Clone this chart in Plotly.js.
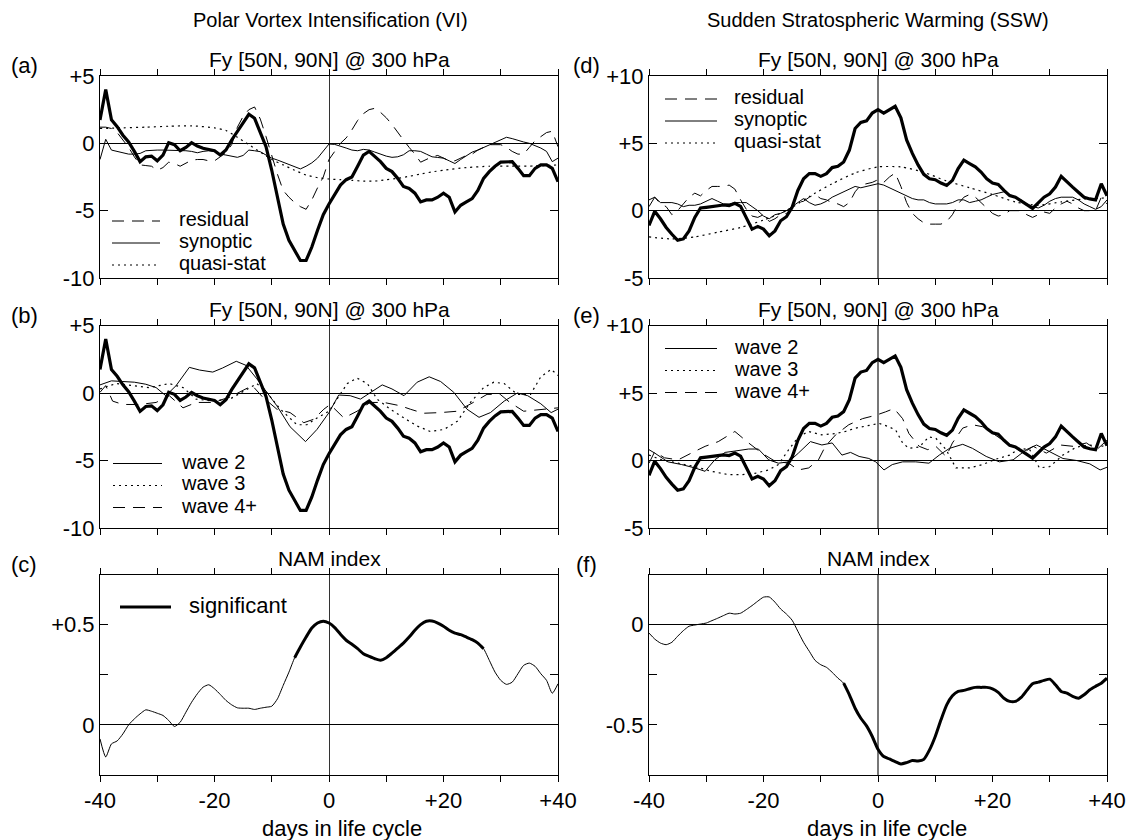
<!DOCTYPE html>
<html><head><meta charset="utf-8">
<script src="https://cdn.plot.ly/plotly-3.0.1.min.js"></script>
<style>body{margin:0;background:#fff}#chart{width:1137px;height:840px}</style>
</head><body><div id="chart"></div>
<script>
// ---------------- DATA ----------------
const days = [-40,-39,-38,-37,-36,-35,-34,-33,-32,-31,-30,-29,-28,-27,-26,-25,-24,-23,-22,-21,
  -20,-19,-18,-17,-16,-15,-14,-13,-12,-11,-10,-9,-8,-7,-6,-5,-4,-3,-2,-1,
  0,1,2,3,4,5,6,7,8,9,10,11,12,13,14,15,16,17,18,19,20,21,22,23,24,25,26,27,28,29,
  30,31,32,33,34,35,36,37,38,39,40];

// Polar Vortex Intensification (VI): Fy total (thick)
const fyTotalVI = [1.74,4.0,1.74,1.24,0.6,0.1,-0.6,-1.36,-1.0,-0.95,
  -1.3,-0.87,0.05,-0.1,-0.55,-0.3,0.05,-0.2,-0.37,-0.45,
  -0.55,-0.87,-0.5,0.25,0.87,1.5,2.16,1.86,0.87,-0.25,
  -2.0,-4.0,-6.0,-7.2,-7.9,-8.7,-8.7,-7.7,-6.45,-5.3,
  -4.5,-3.85,-3.1,-2.7,-2.5,-1.7,-0.87,-0.6,-0.95,-1.36,
  -1.86,-2.1,-2.6,-3.2,-3.35,-3.7,-4.35,-4.2,-4.2,-4.0,
  -3.7,-4.0,-5.1,-4.6,-4.35,-4.1,-3.5,-2.6,-2.1,-1.7,
  -1.4,-1.4,-1.36,-1.86,-2.4,-2.4,-1.86,-1.6,-1.6,-1.86,-2.85];
const residualVI = [1.2,1.2,1.1,0.8,0.25,-0.3,-1.0,-1.6,-1.65,-1.7,
  -2.0,-1.8,-1.4,-1.5,-1.7,-1.5,-1.25,-1.2,-1.2,-1.3,
  -1.3,-1.0,-0.7,-0.1,1.2,2.0,2.5,2.7,1.8,0.5,
  -1.0,-2.3,-3.5,-4.0,-4.4,-4.7,-4.9,-4.2,-3.3,-2.5,
  -1.2,-0.6,0.0,0.4,1.0,1.7,2.2,2.5,2.6,2.3,
  1.9,1.4,0.8,0.25,-0.3,-0.8,-1.4,-1.2,-1.0,-0.9,
  -1.1,-1.3,-1.3,-1.1,-0.9,-0.8,-0.5,-0.3,-0.1,-0.1,
  -0.1,-0.3,-0.6,-0.8,-0.8,-0.3,0.2,0.5,0.8,0.9,-0.25];
const synopticVI = [-1.2,0.3,-0.5,-0.6,-0.75,-0.8,-0.8,-0.75,-0.55,-0.5,
  -0.5,-0.5,-0.5,-0.5,-0.5,-0.55,-0.6,-0.7,-0.6,-0.55,
  -0.6,-0.8,-0.87,-0.95,-1.04,-0.9,-0.5,-0.55,-0.62,-0.87,
  -1.1,-1.24,-1.4,-1.6,-1.75,-1.9,-1.7,-1.45,-1.1,-0.6,
  -0.05,-0.08,-0.2,-0.35,-0.5,-0.55,-0.45,-0.5,-0.65,-0.8,
  -0.95,-1.04,-1.0,-0.85,-0.55,-0.55,-0.6,-0.8,-1.0,-1.05,
  -1.1,-1.3,-1.5,-1.2,-0.9,-0.65,-0.5,-0.3,-0.1,0.1,
  0.3,0.45,0.35,0.2,0.1,0.0,-0.15,-0.35,-0.6,-1.36,-1.1];
const quasiVIDays = [-40,-36,-32,-28,-24,-20,-18,-16,-14,-12,-10,-8,-6,-4,-2,0,2,4,6,8,10,12,14,16,18,20,24,28,32,36,40];
const quasiVI = [1.1,1.15,1.2,1.27,1.3,1.15,0.95,0.45,-0.1,-0.65,-1.2,-1.6,-2.0,-2.35,-2.55,-2.65,-2.7,-2.75,-2.8,-2.8,-2.7,-2.6,-2.45,-2.28,-2.12,-2.0,-1.8,-1.7,-1.69,-1.68,-1.6];

const wave2VIDays = [-40,-38,-36,-34,-32,-30.2,-28.5,-26.7,-24.4,-22.6,-20.3,-18.6,-16.2,-14.5,-12.6,-10.9,-9.1,-6.8,-4.1,-2.1,0,1.7,3.7,5.5,7.2,9.3,11,13.1,15.4,17.5,19.5,21.8,24.1,26.2,28.2,30.6,32.9,34.7,37,38.8,40];
const wave2VI = [0.6,0.9,0.85,0.8,0.65,0.4,-0.2,0.55,1.9,1.7,1.55,1.85,2.35,2.05,1.05,0.05,-0.95,-2.5,-3.6,-2.7,-1.45,-0.15,-0.2,-0.45,0.05,0.6,0.3,-0.2,0.8,1.2,0.85,0.05,-1.2,-1.8,-1.45,-0.6,0.0,-0.2,-0.8,-1.45,-1.2];
const wave3VIDays = [-40,-37.2,-34.3,-31.4,-27.9,-25.5,-23.2,-20.3,-17.3,-14.5,-12.6,-10.9,-8.5,-5.6,-3.85,-2.1,0,1.4,3.2,4.9,6.7,8.4,10.7,13.1,15.4,17.7,20.1,22.4,24.7,27,28.8,30.6,32.9,35.2,37,38.8,40];
const wave3VI = [0.3,0.7,0.55,0.4,0.7,0.4,-0.45,-0.6,-0.45,0.2,0.7,0.05,-1.2,-2.35,-2.35,-1.85,-1.35,-0.45,0.7,1.1,0.7,-0.45,-1.2,-1.85,-2.45,-2.85,-2.7,-2.1,-0.7,0.4,0.8,0.7,-0.1,-0.1,1.2,1.75,1.3];
const wave4VIDays = [-40,-39,-37.8,-36,-33.1,-30.2,-27.9,-25.5,-23.2,-20.3,-17.3,-15.1,-13.4,-11.6,-9.1,-6.8,-4.4,-2.7,-0.9,0.2,2.6,4.9,7.2,9.6,12.5,14.2,16.5,19.5,22.4,25.2,27.6,29.9,31.6,34,37,40];
const wave4VI = [0.05,0.55,-0.6,-0.85,-0.85,-0.7,-0.2,-1.1,-0.7,-0.7,-0.3,0.2,0.55,-0.3,-1.2,-1.45,-2.2,-1.95,-1.2,-0.85,-1.85,-1.35,-0.7,-0.7,-0.95,-1.2,-1.5,-1.45,-1.35,-0.7,-0.1,-0.1,-0.7,-1.35,-1.2,-1.1];

// Sudden Stratospheric Warming (SSW)
const fyTotalSSW = [-1.1,-0.05,-0.6,-1.25,-1.75,-2.2,-2.1,-1.5,-0.5,0.2,
  0.25,0.32,0.35,0.42,0.37,0.55,0.32,-0.5,-1.37,-1.17,
  -1.37,-1.87,-1.5,-0.75,-0.45,0.25,1.5,2.37,2.75,2.75,
  2.55,2.75,3.2,3.3,3.62,4.5,6.1,6.55,6.67,7.25,
  7.5,7.25,7.5,7.75,6.9,5.25,4.25,3.4,2.7,2.37,
  2.3,2.05,1.87,2.25,3.12,3.75,3.5,3.25,2.87,2.37,
  2.05,1.95,1.5,1.12,1.0,0.75,0.45,0.17,0.62,1.0,
  1.25,1.75,2.55,2.12,1.75,1.37,1.0,0.87,0.8,2.0,1.1];
const residualSSW = [0.8,1.0,0.5,0.3,-0.3,0.0,0.5,1.0,1.3,1.1,
  1.5,1.8,1.8,1.8,1.9,1.6,0.8,0.1,-0.4,-0.5,
  -0.3,-0.8,-0.6,-0.3,-0.2,0.2,0.6,0.7,1.0,1.2,
  0.9,0.8,0.6,0.5,0.3,0.6,1.4,1.9,2.0,2.1,
  2.3,2.1,2.5,2.8,1.8,0.6,-0.2,-0.6,-0.9,-1.0,
  -1.0,-1.0,-0.8,-0.3,0.5,1.0,1.2,1.0,0.6,0.2,
  -0.2,-0.4,-0.3,0.0,0.0,0.0,-0.3,-0.5,-0.3,-0.1,
  -0.2,0.2,0.5,0.7,0.5,0.2,0.0,0.0,0.0,1.0,0.5];
const synopticSSW = [0.3,1.0,0.6,0.6,0.6,0.5,0.3,0.4,0.4,0.5,
  0.7,0.9,0.7,0.5,0.5,0.6,0.6,0.6,0.3,0.0,
  -0.4,-0.6,-0.3,-0.2,0.0,0.3,0.6,0.9,0.6,0.4,
  0.5,0.7,1.0,1.2,1.4,1.6,1.8,1.7,1.8,1.9,
  2.0,1.9,1.7,1.5,1.3,1.1,0.9,0.8,0.8,0.6,
  0.5,0.5,0.5,0.6,0.8,0.8,0.6,0.7,0.8,1.0,
  1.2,1.3,1.4,1.2,1.0,0.8,0.5,0.3,0.2,0.4,
  0.7,0.9,1.0,1.0,1.0,0.8,0.5,0.3,0.1,0.3,0.8];
const quasiSSWDays = [-40,-36,-32,-28,-24,-20,-16,-12,-8,-4,0,4,8,12,16,20,24,28,32,36,40];
const quasiSSW = [-1.95,-2.1,-1.95,-1.6,-1.25,-0.7,0.0,1.05,2.0,2.8,3.25,3.25,2.85,2.2,1.7,1.2,0.65,0.4,0.65,0.87,0.95];

const wave2SSWDays = [-40,-39,-36.7,-34.3,-32,-30.2,-28.5,-26.7,-25,-22.6,-20.9,-19.1,-17.4,-15.6,-13.9,-11.8,-9.8,-8,-6.3,-4.8,-3.3,-1.6,-0.4,1.05,2.5,4.3,6.6,8.9,10.7,12.5,14.8,16.5,18.9,21.2,23.6,25.9,27.7,30,32.3,34.7,37,38.8,40];
const wave2SSW = [0.8,0.55,-0.1,-0.3,-0.55,-0.8,0.05,0.6,0.7,0.85,0.85,0.05,-0.2,-0.1,0.55,1.4,1.15,1.3,0.4,0.6,0.3,0.15,-0.1,-0.7,-0.3,-0.1,-0.1,-0.2,0.4,0.9,1.2,0.9,0.3,-0.1,0.05,0.8,1.15,0.65,0.15,0.0,-0.25,-0.7,-0.5];
const wave3SSWDays = [-40,-37.8,-34.9,-32,-29.1,-26.1,-23.8,-21.5,-19.1,-17.4,-15.6,-13.9,-12.1,-9.8,-7.4,-5.7,-3.9,-1.6,0.2,1.9,3.1,4.3,5.4,7.2,8.9,10.1,11.9,13.6,16,18.3,20.6,23,24.7,26.5,28.2,30,32.3,34.7,37,38.8,40];
const wave3SSW = [0.4,0.05,-0.2,-0.45,-0.8,-1.05,-1.05,-0.95,-0.7,-0.3,0.8,1.75,2.15,1.9,2.0,2.15,2.4,2.6,2.75,2.5,2.25,1.3,0.9,1.0,1.75,1.65,0.8,-0.55,-0.55,-0.3,0.1,0.4,0.9,0.8,-0.55,-0.45,0.4,1.0,1.15,1.0,1.2];
const wave4SSWDays = [-40,-39,-37.3,-34.9,-32.6,-30.2,-27.9,-25,-22.6,-20.3,-18,-15.6,-13.9,-12.1,-10.4,-9.2,-7.4,-5.1,-2.7,-0.4,1.3,2.8,4.3,5.4,7.2,8.7,10.1,11.9,13,14.8,16.5,18.3,20.1,21.8,23.6,25.3,27.1,29.4,31.8,34.1,36.4,38.2,40];
const wave4SSW = [-0.2,0.65,0.2,0.05,0.55,1.05,1.4,2.15,1.3,0.55,-0.05,-0.2,-0.7,-0.55,0.05,1.05,1.9,2.65,3.1,3.35,3.6,3.85,3.1,2.0,1.05,0.8,1.05,0.3,1.3,2.4,2.65,2.5,2.0,1.5,1.05,0.55,1.05,0.55,1.15,1.05,1.3,0.8,1.5];

// NAM index
const namVI = [-0.07,-0.16,-0.095,-0.08,-0.045,0.0,0.03,0.055,0.075,0.068,
  0.058,0.047,0.022,-0.008,0.013,0.063,0.113,0.155,0.188,0.2,
  0.18,0.152,0.122,0.1,0.085,0.083,0.083,0.077,0.083,0.088,
  0.093,0.13,0.197,0.263,0.335,0.388,0.438,0.483,0.508,0.517,
  0.508,0.485,0.452,0.422,0.402,0.38,0.355,0.342,0.33,0.322,
  0.335,0.358,0.383,0.408,0.438,0.472,0.5,0.517,0.518,0.508,
  0.492,0.472,0.458,0.45,0.438,0.425,0.408,0.38,0.322,0.263,
  0.222,0.202,0.213,0.255,0.297,0.308,0.292,0.255,0.222,0.158,0.205];
const namSSW = [-0.042,-0.072,-0.092,-0.1,-0.088,-0.058,-0.03,-0.008,-0.002,0.003,
  0.008,0.02,0.032,0.045,0.057,0.053,0.057,0.075,0.095,0.117,
  0.137,0.138,0.112,0.078,0.053,0.022,-0.033,-0.088,-0.133,-0.178,
  -0.2,-0.213,-0.238,-0.267,-0.292,-0.35,-0.417,-0.467,-0.505,-0.558,
  -0.622,-0.658,-0.67,-0.683,-0.695,-0.688,-0.678,-0.68,-0.672,-0.625,
  -0.558,-0.475,-0.4,-0.355,-0.333,-0.328,-0.32,-0.313,-0.313,-0.313,
  -0.32,-0.338,-0.367,-0.383,-0.383,-0.363,-0.328,-0.295,-0.287,-0.278,
  -0.272,-0.3,-0.333,-0.342,-0.358,-0.367,-0.35,-0.325,-0.308,-0.292,-0.267];
const namSigVI = [-6, 27];   // significant period (days)
const namSigSSW = [-6, 40];

const xTickVals = [-40,-30,-20,-10,0,10,20,30,40];
const xTickText = ['-40','','-20','','0','','+20','','+40'];

// ---------------- LAYOUT HELPERS ----------------
const W = 1137, H = 840;
const FONT = 'Liberation Sans, Arial, Helvetica, sans-serif';
const cols = {L:[100,558], R:[649,1107]};
const rows = {top:[76,278], mid:[325.5,528], bot:[574.5,775]};
const px = x => x / W;
const py = y => 1 - y / H;

const S_THICK = {color:'#000', width:3.2};
const S_THIN  = {color:'#000', width:1};
const S_DASH  = {color:'#000', width:1, dash:'12px,8px'};
const S_DOT   = {color:'#000', width:1.2, dash:'2px,4px'};
const LEG_FONT = 20;

const panels = [
  {n:1, lab:'(a)', col:'L', row:'top', title:'Fy [50N, 90N] @ 300 hPa', yr:[-10,5], yt:[-10,-5,0,5], ytt:['-10','-5','0','+5'], vline:'#333',
   series:[
     {x:days, y:residualVI, s:S_DASH},
     {x:days, y:synopticVI, s:S_THIN},
     {x:quasiVIDays, y:quasiVI, s:S_DOT, spline:true},
     {x:days, y:fyTotalVI, s:S_THICK}],
   legend:{x0:12, x1:60, tx:78, rows:[145,167,189], items:[['residual',S_DASH],['synoptic',S_THIN],['quasi-stat',S_DOT]]}},
  {n:2, lab:'(b)', col:'L', row:'mid', title:'Fy [50N, 90N] @ 300 hPa', yr:[-10,5], yt:[-10,-5,0,5], ytt:['-10','-5','0','+5'], vline:'#333',
   series:[
     {x:wave2VIDays, y:wave2VI, s:S_THIN},
     {x:wave3VIDays, y:wave3VI, s:S_DOT},
     {x:wave4VIDays, y:wave4VI, s:S_DASH},
     {x:days, y:fyTotalVI, s:S_THICK}],
   legend:{x0:13, x1:62, tx:80, rows:[138,160,182], items:[['wave 2',S_THIN],['wave 3',S_DOT],['wave 4+',S_DASH]]}},
  {n:3, lab:'(c)', col:'L', row:'bot', title:'NAM index', yr:[-0.25,0.75], yt:[-0.25,0,0.25,0.5,0.75], ytt:['','0','','+0.5',''], vline:'#333', xlabels:true,
   series:[
     {x:days, y:namVI, s:S_THIN, spline:true},
     {x:days, y:namVI, s:{color:'#000', width:3}, spline:true, sig:namSigVI}],
   legend:{x0:20, x1:71, tx:88, rows:[32.5], items:[['significant',{color:'#000', width:3}]]}},
  {n:4, lab:'(d)', col:'R', row:'top', title:'Fy [50N, 90N] @ 300 hPa', yr:[-5,10], yt:[-5,0,5,10], ytt:['-5','0','+5','+10'], vline:'#777',
   series:[
     {x:days, y:residualSSW, s:S_DASH},
     {x:days, y:synopticSSW, s:S_THIN},
     {x:quasiSSWDays, y:quasiSSW, s:S_DOT, spline:true},
     {x:days, y:fyTotalSSW, s:S_THICK}],
   legend:{x0:16, x1:68, tx:84, rows:[23,45,67], items:[['residual',S_DASH],['synoptic',S_THIN],['quasi-stat',S_DOT]]}},
  {n:5, lab:'(e)', col:'R', row:'mid', title:'Fy [50N, 90N] @ 300 hPa', yr:[-5,10], yt:[-5,0,5,10], ytt:['-5','0','+5','+10'], vline:'#777',
   series:[
     {x:wave2SSWDays, y:wave2SSW, s:S_THIN},
     {x:wave3SSWDays, y:wave3SSW, s:S_DOT},
     {x:wave4SSWDays, y:wave4SSW, s:S_DASH},
     {x:days, y:fyTotalSSW, s:S_THICK}],
   legend:{x0:16, x1:68, tx:84, rows:[23,45,67], items:[['wave 2',S_THIN],['wave 3',S_DOT],['wave 4+',S_DASH]]}},
  {n:6, lab:'(f)', col:'R', row:'bot', title:'NAM index', yr:[-0.75,0.25], yt:[-0.75,-0.5,-0.25,0,0.25], ytt:['','-0.5','','0',''], vline:'#777', xlabels:true,
   series:[
     {x:days, y:namSSW, s:S_THIN, spline:true},
     {x:days, y:namSSW, s:{color:'#000', width:3}, spline:true, sig:namSigSSW}]}
];

const traces = [];
const layout = {
  width: W, height: H, margin:{l:0,r:0,t:0,b:0},
  paper_bgcolor:'#fff', plot_bgcolor:'#fff', showlegend:false,
  font:{family:FONT, size:22, color:'#000'},
  annotations:[], shapes:[]
};
function ann(text, x, y, size, xa, ya) {
  layout.annotations.push({text, x:px(x), y:py(y), xref:'paper', yref:'paper', showarrow:false,
    xanchor:xa||'center', yanchor:ya||'middle', borderpad:0, font:{family:FONT, size:size, color:'#000'}});
}

panels.forEach(p => {
  const [xl, xr] = cols[p.col];
  const [yt, yb] = rows[p.row];
  const xk = 'xaxis' + (p.n===1?'':p.n), yk = 'yaxis' + (p.n===1?'':p.n);
  const xid = 'x' + (p.n===1?'':p.n), yid = 'y' + (p.n===1?'':p.n);
  layout[xk] = {domain:[px(xl), px(xr)], anchor:yid, range:[-40,40], tickmode:'array',
    tickvals:xTickVals, ticktext:xTickText, ticks:'outside', ticklen:6, tickwidth:1, tickcolor:'#000',
    showticklabels:!!p.xlabels, tickfont:{size:22}, showline:true, linecolor:'#000', linewidth:1, mirror:'ticks',
    showgrid:false, zeroline:true, zerolinecolor:p.vline, zerolinewidth:p.col==='R'?1.6:1, fixedrange:true};
  layout[yk] = {domain:[py(yb), py(yt)], anchor:xid, range:p.yr, tickmode:'array', tickvals:p.yt, ticktext:p.ytt,
    ticks:'inside', ticklen:8, tickwidth:1, tickcolor:'#000', tickfont:{size:22},
    showline:true, linecolor:'#000', linewidth:1, mirror:'ticks', showgrid:false,
    zeroline:true, zerolinecolor:'#000', zerolinewidth:1, fixedrange:true};
  p.series.forEach(s => {
    let xs = s.x, ys = s.y;
    if (s.sig) {
      const idx = xs.map((d,i)=>i).filter(i => xs[i] >= s.sig[0] && xs[i] <= s.sig[1]);
      xs = idx.map(i => s.x[i]); ys = idx.map(i => s.y[i]);
    }
    traces.push({type:'scatter', mode:'lines', x:xs, y:ys, xaxis:xid, yaxis:yid,
      line:Object.assign({shape: s.spline ? 'spline' : 'linear', smoothing:0.6}, s.s),
      hoverinfo:'skip', showlegend:false, cliponaxis:true});
  });
  // titles and labels
  ann(p.title, (xl+xr)/2, yt - 16, 21);
  ann(p.lab, p.col==='L' ? 24 : 586, yt - 10, 22);
  if (p.legend) {
    const L = p.legend;
    L.items.forEach((it, i) => {
      const yy = yt + L.rows[i];
      layout.shapes.push({type:'line', xref:'paper', yref:'paper', x0:px(xl+L.x0), x1:px(xl+L.x1),
        y0:py(yy), y1:py(yy), line:Object.assign({}, it[1])});
      ann(it[0], xl + L.tx, yy - 2, L.items.length > 1 ? LEG_FONT : 22, 'left', 'middle');
    });
  }
});

// column headers and x axis titles
ann('Polar Vortex Intensification (VI)', 330, 20, 20);
ann('Sudden Stratospheric Warming (SSW)', 878, 20, 20);
ann('days in life cycle', 342, 828, 22);
ann('days in life cycle', 887, 828, 22);

Plotly.newPlot('chart', traces, layout, {staticPlot:true, displayModeBar:false});
</script>
</body></html>
